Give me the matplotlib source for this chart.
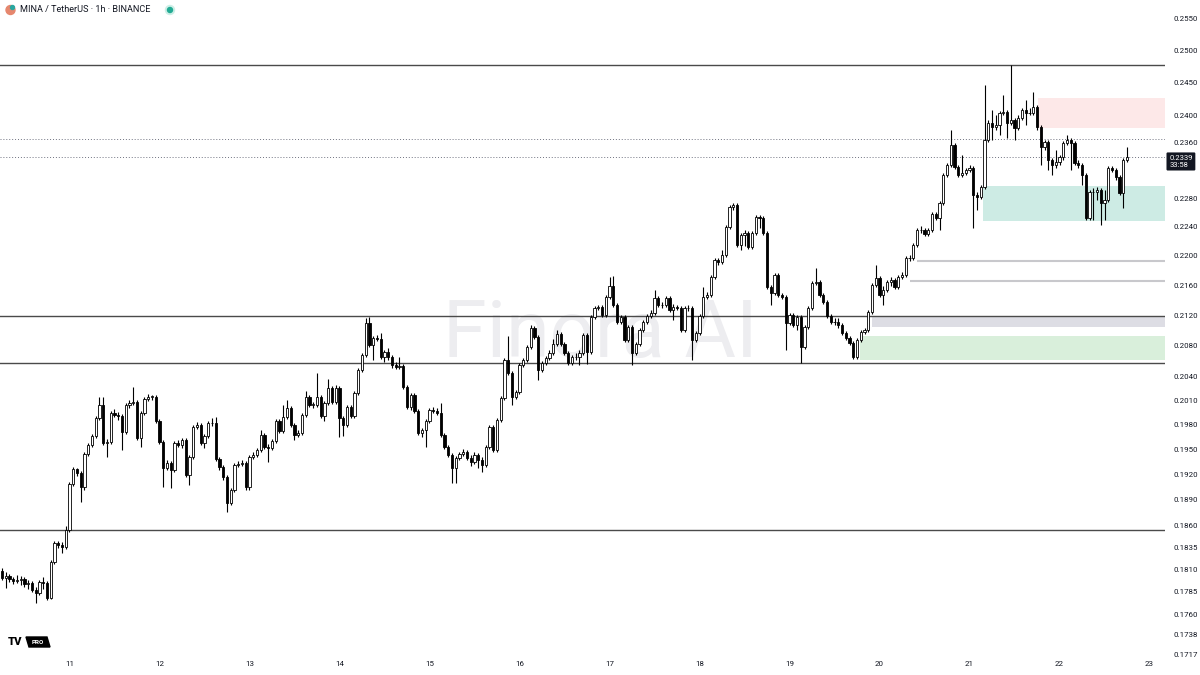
import matplotlib
matplotlib.use("Agg")
import matplotlib.pyplot as plt
from matplotlib.patches import Rectangle, Circle, Polygon
from matplotlib.ticker import NullLocator, NullFormatter

# MINA/USDT 1h candles, day 10 06:00 -> day 22 18:00 (open = previous close)
first_open = 0.1808
closes = [
    0.1800, 0.1802, 0.1799, 0.1797, 0.1798, 0.1799, 0.1793, 0.1794, 0.1787, 0.1783,
    0.1796, 0.1794, 0.1778, 0.1818, 0.1840, 0.1837, 0.1835, 0.1855, 0.1908, 0.1926,
    0.1922, 0.1905, 0.1944, 0.1955, 0.1966, 0.1988, 0.2005, 0.1958, 0.1959, 0.1995,
    0.1992, 0.1991, 0.1971, 0.2005, 0.2007, 0.2008, 0.1964, 0.1995, 0.2012, 0.2015,
    0.2015, 0.1985, 0.1959, 0.1928, 0.1934, 0.1925, 0.1958, 0.1955, 0.1961, 0.1919,
    0.1941, 0.1977, 0.1980, 0.1958, 0.1966, 0.1982, 0.1982, 0.1938, 0.1929, 0.1917,
    0.1886, 0.1901, 0.1931, 0.1932, 0.1934, 0.1905, 0.1941, 0.1943, 0.1949, 0.1967,
    0.1953, 0.1952, 0.1960, 0.1985, 0.1972, 0.1990, 0.2001, 0.1980, 0.1967, 0.1970,
    0.1992, 0.2015, 0.2005, 0.2005, 0.2015, 0.1991, 0.2007, 0.2026, 0.2008, 0.2026,
    0.1988, 0.1980, 0.2002, 0.1991, 0.2020, 0.2049, 0.2068, 0.2109, 0.2081, 0.2090,
    0.2089, 0.2065, 0.2072, 0.2065, 0.2055, 0.2053, 0.2054, 0.2027, 0.2002, 0.2017,
    0.1997, 0.1970, 0.1974, 0.1985, 0.1998, 0.1997, 0.1995, 0.1967, 0.1953, 0.1943,
    0.1928, 0.1940, 0.1944, 0.1947, 0.1940, 0.1935, 0.1943, 0.1937, 0.1931, 0.1953,
    0.1977, 0.1949, 0.1986, 0.2013, 0.2062, 0.2045, 0.2015, 0.2021, 0.2055, 0.2062,
    0.2078, 0.2103, 0.2091, 0.2049, 0.2058, 0.2064, 0.2070, 0.2082, 0.2095, 0.2082,
    0.2070, 0.2058, 0.2065, 0.2065, 0.2070, 0.2094, 0.2072, 0.2117, 0.2129, 0.2131,
    0.2120, 0.2144, 0.2159, 0.2133, 0.2111, 0.2117, 0.2087, 0.2104, 0.2070, 0.2082,
    0.2100, 0.2111, 0.2119, 0.2123, 0.2142, 0.2133, 0.2133, 0.2142, 0.2127, 0.2131,
    0.2129, 0.2100, 0.2129, 0.2129, 0.2087, 0.2096, 0.2119, 0.2144, 0.2147, 0.2171,
    0.2194, 0.2191, 0.2201, 0.2239, 0.2267, 0.2270, 0.2214, 0.2228, 0.2231, 0.2212,
    0.2231, 0.2253, 0.2252, 0.2231, 0.2157, 0.2149, 0.2173, 0.2147, 0.2144, 0.2109,
    0.2120, 0.2107, 0.2117, 0.2078, 0.2104, 0.2129, 0.2163, 0.2164, 0.2147, 0.2137,
    0.2119, 0.2111, 0.2111, 0.2107, 0.2096, 0.2090, 0.2083, 0.2065, 0.2087, 0.2098,
    0.2100, 0.2124, 0.2160, 0.2169, 0.2147, 0.2153, 0.2164, 0.2167, 0.2157, 0.2171,
    0.2173, 0.2196, 0.2196, 0.2214, 0.2235, 0.2235, 0.2229, 0.2235, 0.2257, 0.2252,
    0.2273, 0.2313, 0.2327, 0.2356, 0.2324, 0.2313, 0.2316, 0.2320, 0.2323, 0.2284,
    0.2281, 0.2296, 0.2364, 0.2389, 0.2383, 0.2386, 0.2404, 0.2405, 0.2389, 0.2393,
    0.2381, 0.2396, 0.2408, 0.2404, 0.2404, 0.2413, 0.2383, 0.2353, 0.2361, 0.2335,
    0.2327, 0.2332, 0.2339, 0.2359, 0.2364, 0.2359, 0.2330, 0.2327, 0.2313, 0.2252,
    0.2288, 0.2288, 0.2291, 0.2273, 0.2277, 0.2323, 0.2320, 0.2310, 0.2287, 0.2335,
    0.2339,
]
highs = [
    0.1811, 0.1807, 0.1805, 0.1801, 0.1803, 0.1802, 0.1801, 0.1798, 0.1797, 0.1790,
    0.1798, 0.1801, 0.1797, 0.1820, 0.1842, 0.1842, 0.1841, 0.1859, 0.1911, 0.1929,
    0.1928, 0.1924, 0.1947, 0.1958, 0.1969, 0.1991, 0.2015, 0.2015, 0.1963, 0.1997,
    0.2000, 0.1996, 0.1993, 0.2007, 0.2011, 0.2027, 0.2011, 0.1997, 0.2015, 0.2018,
    0.2017, 0.2017, 0.1987, 0.1961, 0.1937, 0.1936, 0.1960, 0.1961, 0.1964, 0.1964,
    0.1943, 0.1980, 0.1983, 0.1982, 0.1969, 0.1985, 0.1988, 0.1990, 0.1941, 0.1931,
    0.1919, 0.1904, 0.1934, 0.1936, 0.1937, 0.1936, 0.1943, 0.1947, 0.1952, 0.1974,
    0.1970, 0.1956, 0.1963, 0.1987, 0.1987, 0.2005, 0.2011, 0.2003, 0.1982, 0.1974,
    0.1995, 0.2022, 0.2017, 0.2008, 0.2045, 0.2017, 0.2010, 0.2037, 0.2028, 0.2030,
    0.2028, 0.1991, 0.2005, 0.2005, 0.2022, 0.2051, 0.2070, 0.2116, 0.2117, 0.2093,
    0.2094, 0.2096, 0.2074, 0.2077, 0.2068, 0.2059, 0.2065, 0.2056, 0.2030, 0.2020,
    0.2020, 0.2000, 0.1976, 0.1987, 0.2001, 0.2002, 0.2001, 0.2007, 0.1970, 0.1955,
    0.1946, 0.1942, 0.1947, 0.1950, 0.1949, 0.1943, 0.1947, 0.1946, 0.1941, 0.1955,
    0.1980, 0.1980, 0.1988, 0.2016, 0.2064, 0.2093, 0.2047, 0.2023, 0.2058, 0.2064,
    0.2081, 0.2107, 0.2106, 0.2094, 0.2060, 0.2067, 0.2074, 0.2089, 0.2100, 0.2098,
    0.2085, 0.2073, 0.2068, 0.2070, 0.2074, 0.2096, 0.2096, 0.2120, 0.2132, 0.2133,
    0.2133, 0.2147, 0.2171, 0.2172, 0.2136, 0.2120, 0.2120, 0.2107, 0.2107, 0.2085,
    0.2103, 0.2113, 0.2121, 0.2127, 0.2153, 0.2145, 0.2137, 0.2145, 0.2145, 0.2135,
    0.2133, 0.2132, 0.2132, 0.2133, 0.2132, 0.2099, 0.2121, 0.2157, 0.2151, 0.2173,
    0.2196, 0.2196, 0.2207, 0.2242, 0.2270, 0.2273, 0.2273, 0.2231, 0.2235, 0.2234,
    0.2234, 0.2256, 0.2256, 0.2255, 0.2234, 0.2160, 0.2176, 0.2176, 0.2149, 0.2147,
    0.2123, 0.2123, 0.2120, 0.2120, 0.2107, 0.2132, 0.2165, 0.2183, 0.2167, 0.2149,
    0.2140, 0.2121, 0.2116, 0.2116, 0.2109, 0.2099, 0.2093, 0.2086, 0.2090, 0.2100,
    0.2103, 0.2127, 0.2163, 0.2187, 0.2172, 0.2159, 0.2167, 0.2171, 0.2169, 0.2173,
    0.2177, 0.2199, 0.2201, 0.2217, 0.2238, 0.2241, 0.2238, 0.2238, 0.2260, 0.2260,
    0.2276, 0.2316, 0.2330, 0.2378, 0.2359, 0.2327, 0.2342, 0.2323, 0.2327, 0.2326,
    0.2288, 0.2298, 0.2446, 0.2393, 0.2408, 0.2401, 0.2407, 0.2431, 0.2408, 0.2477,
    0.2396, 0.2401, 0.2411, 0.2423, 0.2411, 0.2435, 0.2416, 0.2386, 0.2364, 0.2364,
    0.2337, 0.2349, 0.2342, 0.2362, 0.2371, 0.2367, 0.2362, 0.2335, 0.2330, 0.2316,
    0.2291, 0.2294, 0.2296, 0.2294, 0.2291, 0.2326, 0.2326, 0.2323, 0.2313, 0.2337,
    0.2353,
]
lows = [
    0.1798, 0.1789, 0.1796, 0.1793, 0.1794, 0.1792, 0.1790, 0.1788, 0.1784, 0.1772,
    0.1781, 0.1788, 0.1776, 0.1777, 0.1816, 0.1834, 0.1828, 0.1833, 0.1852, 0.1906,
    0.1918, 0.1887, 0.1902, 0.1942, 0.1953, 0.1964, 0.1986, 0.1955, 0.1941, 0.1956,
    0.1990, 0.1986, 0.1949, 0.1969, 0.2001, 0.2005, 0.1961, 0.1953, 0.1992, 0.2010,
    0.2011, 0.1982, 0.1956, 0.1905, 0.1925, 0.1904, 0.1923, 0.1953, 0.1952, 0.1917,
    0.1907, 0.1938, 0.1975, 0.1955, 0.1952, 0.1964, 0.1979, 0.1936, 0.1925, 0.1913,
    0.1876, 0.1884, 0.1899, 0.1929, 0.1930, 0.1902, 0.1902, 0.1938, 0.1941, 0.1947,
    0.1950, 0.1935, 0.1949, 0.1958, 0.1970, 0.1970, 0.1987, 0.1977, 0.1961, 0.1965,
    0.1967, 0.1990, 0.2002, 0.2001, 0.2002, 0.1988, 0.1985, 0.2005, 0.2006, 0.2006,
    0.1965, 0.1966, 0.1977, 0.1988, 0.1988, 0.2017, 0.2046, 0.2065, 0.2078, 0.2062,
    0.2086, 0.2063, 0.2059, 0.2062, 0.2051, 0.2050, 0.2050, 0.2025, 0.2000, 0.1998,
    0.1995, 0.1967, 0.1965, 0.1953, 0.1982, 0.1995, 0.1992, 0.1965, 0.1950, 0.1941,
    0.1910, 0.1910, 0.1937, 0.1942, 0.1937, 0.1930, 0.1932, 0.1928, 0.1923, 0.1929,
    0.1950, 0.1947, 0.1947, 0.1983, 0.2011, 0.2042, 0.2005, 0.2012, 0.2018, 0.2053,
    0.2059, 0.2076, 0.2089, 0.2036, 0.2046, 0.2055, 0.2062, 0.2068, 0.2080, 0.2080,
    0.2068, 0.2055, 0.2055, 0.2062, 0.2055, 0.2068, 0.2056, 0.2069, 0.2115, 0.2127,
    0.2117, 0.2117, 0.2141, 0.2131, 0.2108, 0.2108, 0.2085, 0.2085, 0.2055, 0.2068,
    0.2080, 0.2098, 0.2108, 0.2116, 0.2120, 0.2131, 0.2129, 0.2131, 0.2124, 0.2113,
    0.2127, 0.2098, 0.2098, 0.2125, 0.2062, 0.2085, 0.2094, 0.2116, 0.2141, 0.2144,
    0.2168, 0.2187, 0.2188, 0.2198, 0.2236, 0.2263, 0.2212, 0.2207, 0.2213, 0.2209,
    0.2209, 0.2228, 0.2238, 0.2228, 0.2155, 0.2133, 0.2147, 0.2144, 0.2141, 0.2074,
    0.2107, 0.2104, 0.2100, 0.2058, 0.2076, 0.2102, 0.2127, 0.2160, 0.2144, 0.2135,
    0.2116, 0.2108, 0.2107, 0.2103, 0.2094, 0.2087, 0.2081, 0.2063, 0.2063, 0.2085,
    0.2095, 0.2098, 0.2121, 0.2157, 0.2144, 0.2133, 0.2151, 0.2159, 0.2155, 0.2155,
    0.2168, 0.2171, 0.2192, 0.2194, 0.2212, 0.2231, 0.2227, 0.2227, 0.2232, 0.2249,
    0.2235, 0.2270, 0.2310, 0.2324, 0.2322, 0.2310, 0.2310, 0.2313, 0.2317, 0.2238,
    0.2263, 0.2279, 0.2293, 0.2361, 0.2364, 0.2378, 0.2371, 0.2401, 0.2367, 0.2386,
    0.2364, 0.2378, 0.2393, 0.2386, 0.2401, 0.2401, 0.2378, 0.2327, 0.2349, 0.2320,
    0.2313, 0.2323, 0.2327, 0.2335, 0.2356, 0.2320, 0.2327, 0.2323, 0.2298, 0.2249,
    0.2249, 0.2249, 0.2277, 0.2242, 0.2249, 0.2274, 0.2317, 0.2306, 0.2284, 0.2266,
    0.2332,
]

day_labels = ['11', '12', '13', '14', '15', '16', '17', '18', '19', '20', '21', '22', '23']
first_midnight = 18  # candle index of day 11 00:00

price_ticks = [0.2550, 0.2500, 0.2450, 0.2400, 0.2360, 0.2280, 0.2240, 0.2200,
               0.2160, 0.2120, 0.2080, 0.2040, 0.2010, 0.1980, 0.1950, 0.1920,
               0.1890, 0.1860, 0.1835, 0.1810, 0.1785, 0.1760, 0.1738, 0.1717]

solid_levels = [0.2477, 0.2119, 0.2058, 0.1855]
dotted_levels = [0.2365]
light_levels = [(244, 0.2193), (242, 0.2165)]
# (start candle, bottom, top, colour)
zones = [
    (276.3, 0.2381, 0.2426, '#fde8e8'),
    (261.7, 0.2248, 0.2297, '#cdebe4'),
    (231.9, 0.2104, 0.2119, '#dddde4'),
    (228.8, 0.2062, 0.2093, '#d9efdb'),
]
last_price = 0.2339
countdown = '33:58'
title = 'MINA / TetherUS · 1h · BINANCE'

TXT = '#131722'


def draw_candles(ax):
    opens = [first_open] + closes[:-1]
    xs = list(range(len(closes)))
    bottoms, heights, faces, his, los = [], [], [], [], []
    for i in xs:
        o, c = opens[i], closes[i]
        his.append(max(highs[i], o, c))
        los.append(min(lows[i], o, c))
        bottoms.append(min(o, c))
        heights.append(max(abs(c - o), 0.00004))
        faces.append('white' if c >= o else 'black')
    ax.vlines(xs, los, his, color='black', linewidth=0.8, zorder=3)
    ax.bar(xs, heights, bottom=bottoms, width=0.66, color=faces,
           edgecolor='black', linewidth=0.6, zorder=4)


def draw_levels(ax, xmax):
    for lv in solid_levels:
        ax.axhline(lv, color='#4a4a4a', linewidth=1.0, zorder=2)
    for lv in dotted_levels + [last_price]:
        ax.axhline(lv, color='#6f7280', linewidth=0.7, linestyle=(0, (1, 2)), zorder=2)
    for start, lv in light_levels:
        ax.hlines(lv, start, xmax, color='#c8c8cc', linewidth=1.5, zorder=2)
    for start, lo, hi, col in zones:
        ax.add_patch(Rectangle((start, lo), xmax - start, hi - lo,
                               facecolor=col, edgecolor='none', zorder=1))


def main():
    plt.rcParams['font.family'] = ['Roboto', 'DejaVu Sans']
    fig = plt.figure(figsize=(12, 6.75), dpi=100)
    fig.patch.set_facecolor('white')
    ax = fig.add_axes([0, 18 / 675, 1165 / 1200, 657 / 675])
    xmax = 310.13
    ax.set_xlim(-0.53, xmax)
    ax.set_yscale('log')
    ax.set_ylim(0.17138, 0.2579)

    ax.text(0.515, 0.49, 'Finora AI', transform=ax.transAxes, ha='center', va='center',
            fontsize=57, color='#ededf0', zorder=0)

    draw_levels(ax, xmax)
    draw_candles(ax)

    for s in ax.spines.values():
        s.set_visible(False)
    ax.yaxis.tick_right()
    ax.yaxis.set_minor_locator(NullLocator())
    ax.yaxis.set_minor_formatter(NullFormatter())
    ax.set_yticks(price_ticks)
    ax.set_yticklabels(['%.4f' % t for t in price_ticks])
    ax.set_xticks([first_midnight + 24 * k for k in range(len(day_labels))])
    ax.set_xticklabels(day_labels)
    ax.tick_params(axis='y', length=0, pad=6, labelsize=5.7, labelcolor=TXT)
    ax.tick_params(axis='x', length=0, pad=3, labelsize=5.7, labelcolor=TXT)

    # last price tag
    ax.annotate('%.4f\n%s' % (last_price, countdown), xy=(1.0, last_price),
                xycoords=('axes fraction', 'data'), xytext=(3, -3.2),
                textcoords='offset points', ha='left', va='center', fontsize=5.5,
                color='white', linespacing=1.15, annotation_clip=False,
                bbox=dict(boxstyle='round,pad=0.35,rounding_size=0.15',
                          fc=TXT, ec='none'), zorder=10)

    # header
    fig.text(20 / 1200, 1 - 10 / 675, title, fontsize=6.6, color=TXT, va='center')
    inch = fig.dpi_scale_trans
    fig.add_artist(Circle((0.105, 6.65), 0.045, transform=inch, color='#e6876e'))
    fig.add_artist(Circle((0.125, 6.675), 0.02, transform=inch, color='#2aa7a0'))
    fig.add_artist(Circle((1.70, 6.65), 0.045, transform=inch, color='#cdeee6'))
    fig.add_artist(Circle((1.70, 6.65), 0.025, transform=inch, color='#22ab94'))

    # TV PRO badge
    fig.text(8 / 1200, 33 / 675, 'TV', fontsize=8, weight='heavy', color='black',
             va='center')
    fig.add_artist(Polygon([(0.29, 0.28), (0.50, 0.28), (0.47, 0.38), (0.26, 0.38)],
                           closed=True, transform=inch, color='black'))
    fig.text(0.375 / 12, 0.33 / 6.75, 'PRO', fontsize=4.5, weight='bold',
             color='white', ha='center', va='center')

    fig.savefig('out.png', dpi=100, facecolor='white')


if __name__ == '__main__':
    main()
